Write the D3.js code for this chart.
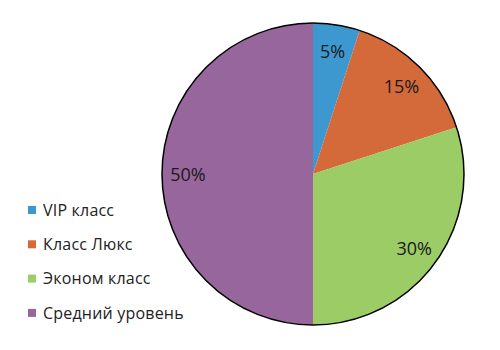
<!DOCTYPE html>
<html lang="ru">
<head>
  <meta charset="UTF-8">
  <script src="https://d3js.org/d3.v7.min.js"></script>
  <style>
    body { margin: 0; background: #fff; }
    text { font-family: "Open Sans", "DejaVu Sans", sans-serif; }
  </style>
</head>
<body>
<div id="chart"></div>
<script>
  // chart data
  const categories = ["VIP класс", "Класс Люкс", "Эконом класс", "Средний уровень"];
  const values = [5, 15, 30, 50];
  const colors = ["#3d98d0", "#d4693a", "#9bcc66", "#97669c"];

  const width = 500, height = 350;
  const cx = 313, cy = 174, radius = 151;

  const svg = d3.select("#chart")
    .append("svg")
    .attr("width", width)
    .attr("height", height);

  const pie = d3.pie().sort(null).value(d => d);
  const arcs = pie(values);

  const arc = d3.arc().innerRadius(0).outerRadius(radius);
  const labelArc = d3.arc().innerRadius(125).outerRadius(125);

  const g = svg.append("g").attr("transform", `translate(${cx},${cy})`);

  g.selectAll("path")
    .data(arcs)
    .enter()
    .append("path")
    .attr("d", arc)
    .attr("fill", (d, i) => colors[i]);

  // outer border only
  g.append("circle")
    .attr("r", radius)
    .attr("fill", "none")
    .attr("stroke", "#000")
    .attr("stroke-width", 1.5);

  g.selectAll("text.lbl")
    .data(arcs)
    .enter()
    .append("text")
    .attr("class", "lbl")
    .attr("transform", d => `translate(${labelArc.centroid(d)})`)
    .attr("text-anchor", "middle")
    .attr("dy", "0.4em")
    .style("font-size", "18px")
    .style("fill", "#1a1a1a")
    .text(d => d.data + "%");

  // legend
  const legend = svg.append("g")
    .selectAll("g")
    .data(categories)
    .enter()
    .append("g")
    .attr("transform", (d, i) => `translate(28,${210 + i * 34.3})`);

  legend.append("rect")
    .attr("x", 0)
    .attr("y", -4)
    .attr("width", 8)
    .attr("height", 8)
    .attr("fill", (d, i) => colors[i]);

  legend.append("text")
    .attr("x", 15)
    .attr("dy", "0.35em")
    .style("font-size", "16px")
    .style("letter-spacing", "0.2px")
    .style("fill", "#222")
    .text(d => d);
</script>
</body>
</html>
